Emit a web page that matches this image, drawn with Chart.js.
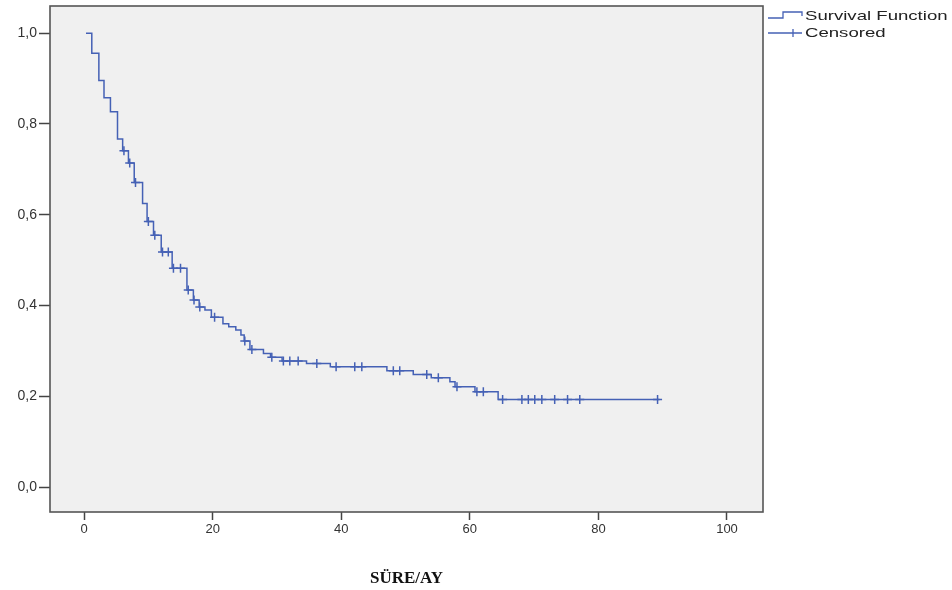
<!DOCTYPE html>
<html>
<head>
<meta charset="utf-8">
<title>Survival Function</title>
<script src="https://cdn.jsdelivr.net/npm/chart.js@4.4.1/dist/chart.umd.min.js"></script>
<style>
  html, body { margin: 0; padding: 0; background: #ffffff; }
  #wrap { position: relative; width: 952px; height: 590px; }
</style>
</head>
<body>
<div id="wrap"><canvas id="km"></canvas></div>
<script>
// Kaplan-Meier steps: time (months) and survival after the step
const stepTimes = [0.3, 1.2, 2.3, 3.1, 4.1, 5.2, 6.0, 6.9, 7.8, 9.1, 9.8, 10.8, 12.0, 13.7, 16.0,
  17.0, 17.9, 18.8, 19.8, 21.6, 22.5, 23.6, 24.4, 24.9, 25.8, 27.9, 29.0, 30.8, 34.6, 38.3,
  47.1, 51.2, 54.0, 56.9, 57.7, 60.8, 64.4, 89.5];
const stepSurvival = [1.000, 0.956, 0.896, 0.858, 0.827, 0.767, 0.741, 0.714, 0.671, 0.625, 0.585, 0.555, 0.518, 0.482, 0.434,
  0.412, 0.397, 0.390, 0.374, 0.360, 0.353, 0.346, 0.335, 0.322, 0.303, 0.294, 0.286, 0.278, 0.272, 0.265,
  0.256, 0.248, 0.241, 0.232, 0.221, 0.210, 0.193, 0.193];

// censored observations
const censorTimes = [6.2, 7.1, 8.0, 10.0, 11.0, 12.2, 13.1, 13.9, 15.0, 16.2, 17.1, 18.0, 20.3,
  25.0, 26.1, 29.2, 31.0, 32.0, 33.3, 36.2, 39.2, 42.1, 43.2, 48.1, 49.1, 53.3, 55.1, 58.0,
  61.1, 62.1, 65.1, 68.1, 69.1, 70.1, 71.2, 73.2, 75.2, 77.1, 89.2];
const censorSurvival = [0.741, 0.714, 0.671, 0.585, 0.555, 0.518, 0.518, 0.482, 0.482, 0.434, 0.412, 0.397, 0.374,
  0.322, 0.303, 0.286, 0.278, 0.278, 0.278, 0.272, 0.265, 0.265, 0.265, 0.256, 0.256, 0.248, 0.241, 0.221,
  0.210, 0.210, 0.193, 0.193, 0.193, 0.193, 0.193, 0.193, 0.193, 0.193, 0.193];

const xTicks = [0, 20, 40, 60, 80, 100];
const yTicks = [0, 0.2, 0.4, 0.6, 0.8, 1.0];

const lineColor = "#4561b5";

// plot background, frame and the legend to the right
const framePlugin = {
  id: "frame",
  beforeDraw(chart) {
    const { ctx, chartArea: a } = chart;
    ctx.save();
    ctx.fillStyle = "#f0f0f0";
    ctx.fillRect(a.left, a.top, a.right - a.left, a.bottom - a.top);
    ctx.restore();
  },
  afterDraw(chart) {
    const { ctx, chartArea: a } = chart;
    ctx.save();
    ctx.strokeStyle = "#555555";
    ctx.lineWidth = 1.6;
    ctx.strokeRect(a.left, a.top, a.right - a.left, a.bottom - a.top);

    // legend
    ctx.strokeStyle = lineColor;
    ctx.lineWidth = 1.3;
    ctx.beginPath();
    ctx.moveTo(768, 18);
    ctx.lineTo(783, 18);
    ctx.lineTo(783, 12);
    ctx.lineTo(802, 12);
    ctx.lineTo(802, 16);
    ctx.stroke();
    ctx.beginPath();
    ctx.moveTo(768, 33);
    ctx.lineTo(802, 33);
    ctx.moveTo(793, 29);
    ctx.lineTo(793, 37);
    ctx.stroke();

    // the reference text is stretched sideways
    ctx.fillStyle = "#222222";
    ctx.font = "13px 'Liberation Sans', Arial, sans-serif";
    ctx.textBaseline = "middle";
    ctx.translate(805, 0);
    ctx.scale(1.43, 1);
    ctx.fillText("Survival Function", 0, 16);
    ctx.fillText("Censored", 0, 33);
    ctx.restore();
  }
};

const ctx = document.getElementById("km").getContext("2d");

new Chart(ctx, {
  type: "line",
  data: {
    datasets: [
      {
        label: "Survival Function",
        data: stepTimes.map((t, i) => ({ x: t, y: stepSurvival[i] })),
        stepped: "before",
        borderColor: lineColor,
        borderWidth: 1.5,
        pointRadius: 0,
        fill: false,
      },
      {
        label: "Censored",
        data: censorTimes.map((t, i) => ({ x: t, y: censorSurvival[i] })),
        showLine: false,
        pointStyle: "cross",
        pointRadius: 4.5,
        pointBorderColor: lineColor,
        pointBorderWidth: 1.5,
      },
    ],
  },
  options: {
    responsive: true,
    maintainAspectRatio: false,
    animation: false,
    layout: { padding: { top: 6, right: 189, bottom: 0, left: 0 } },
    plugins: {
      legend: { display: false },
      tooltip: { enabled: false },
    },
    scales: {
      x: {
        type: "linear",
        min: -5.3,
        max: 105.6,
        afterBuildTicks: (s) => { s.ticks = xTicks.map(v => ({ value: v })); },
        afterFit: (s) => { s.height = 78; s.paddingLeft = 0; s.paddingRight = 0; },
        ticks: {
          color: "#333333",
          font: { family: "'Liberation Sans', Arial, sans-serif", size: 13 },
          padding: 2,
        },
        grid: {
          drawOnChartArea: false,
          drawTicks: true,
          tickLength: 8,
          tickColor: "#444444",
          tickWidth: 1.5,
        },
        border: { display: false },
        title: {
          display: true,
          text: "SÜRE/AY",
          color: "#111111",
          font: { family: "'Liberation Serif', 'Times New Roman', serif", size: 17, weight: "bold" },
          padding: { top: 0, bottom: 1 },
        },
      },
      y: {
        type: "linear",
        min: -0.055,
        max: 1.06,
        afterBuildTicks: (s) => { s.ticks = yTicks.map(v => ({ value: v })); },
        afterFit: (s) => { s.width = 50; s.paddingTop = 0; s.paddingBottom = 0; },
        ticks: {
          color: "#333333",
          font: { family: "'Liberation Sans', Arial, sans-serif", size: 14 },
          padding: 2,
          callback: (v) => v.toFixed(1).replace(".", ","),
        },
        grid: {
          drawOnChartArea: false,
          drawTicks: true,
          tickLength: 11,
          tickColor: "#444444",
          tickWidth: 1.5,
        },
        border: { display: false },
      },
    },
  },
  plugins: [framePlugin],
});
</script>
</body>
</html>
